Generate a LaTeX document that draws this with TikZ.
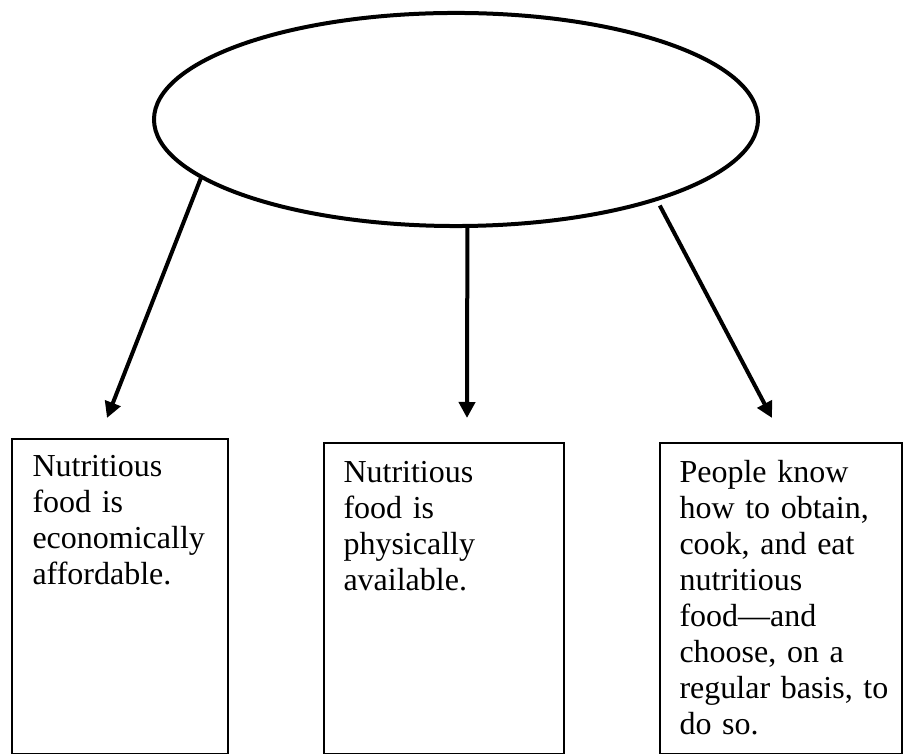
\documentclass[tikz,border=0pt]{standalone}
\usepackage{fontspec}
\setmainfont{Liberation Serif}
\usetikzlibrary{shapes.geometric}
\usetikzlibrary{arrows.meta}

\tikzset{
  goalshape/.style={ellipse, draw=black, line width=1.5pt, minimum width=226.5pt, minimum height=79.9pt, inner sep=0pt},
  pillar/.style={rectangle, draw=black, line width=0.75pt, anchor=north west, inner sep=0pt},
  pillartext/.style={anchor=north west, inner sep=0pt, text width=90pt, align=left, font=\fontsize{12pt}{13.5pt}\selectfont},
  link/.style={line width=1.5pt, -{Triangle[length=6pt,width=6pt]}}
}

\begin{document}
\begin{tikzpicture}[x=0.375pt,y=-0.375pt]
\useasboundingbox (0,0) rectangle (903,754);
\node[goalshape] (goal) at (456,119.5) {};
\node[pillar, minimum width=81pt, minimum height=118.1pt] (afford) at (11,438) {};
\node[pillar, minimum width=90pt, minimum height=116.6pt] (avail) at (323,442) {};
\node[pillar, minimum width=90.6pt, minimum height=116.6pt] (know) at (659,442) {};
\node[pillartext] (affordtxt) at (32,455) {Nutritious\\food is\\economically\\affordable.};
\node[pillartext] (availtxt) at (343,461) {Nutritious\\food is\\physically\\available.};
\node[pillartext] (knowtxt) at (679,460) {People know\\how to obtain,\\cook, and eat\\nutritious\\food---and\\choose, on a\\regular basis, to\\do so.};
\coordinate (tipA) at (107,418);
\coordinate (tipB) at (467,418);
\coordinate (tipC) at (772,418);
\draw[link] (goal.193) -- (tipA);
\draw[link] (goal.-84) -- (tipB);
\draw[link, shorten <=2pt] (goal.-22) -- (tipC);
\end{tikzpicture}
\end{document}
